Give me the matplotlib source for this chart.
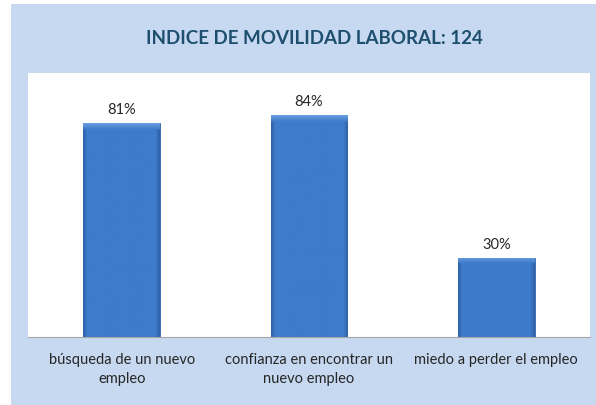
import numpy as np
import matplotlib
matplotlib.use("Agg")
import matplotlib.pyplot as plt
from matplotlib.patches import Rectangle
from matplotlib import font_manager

categories = ["búsqueda de un nuevo\nempleo",
              "confianza en encontrar un\nnuevo empleo",
              "miedo a perder el empleo"]
values = [81, 84, 30]
value_labels = ["81%", "84%", "30%"]
title = "INDICE DE MOVILIDAD LABORAL: 124"

names = {f.name for f in font_manager.fontManager.ttflist}
family = "Liberation Sans Narrow" if "Liberation Sans Narrow" in names else "Lato"
plt.rcParams["font.family"] = [family, "DejaVu Sans"]

W, H = 596, 406
fig = plt.figure(figsize=(W / 100, H / 100), dpi=100)
fig.patch.set_facecolor("white")

# light blue panel behind everything
fig.patches.append(Rectangle((11 / W, 0), 1 - 11 / W, 1 - 5 / H,
                             transform=fig.transFigure, facecolor="#C6D9F0",
                             edgecolor="none", zorder=-10))

ax = fig.add_axes([28 / W, (H - 338) / H, (590 - 28) / W, (338 - 74) / H])
ax.set_facecolor("white")

x = np.arange(len(values))
width = 0.41
bars = ax.bar(x, values, width, color="#3C78C6", edgecolor="#3566A8",
              linewidth=0.6, zorder=2)

# bevel-like shading inside each bar
ny, nx = 200, 80
base = np.array([0x3E, 0x7B, 0xCB]) / 255
light = np.array([0x66, 0x9C, 0xE0]) / 255
dark = np.array([0x2F, 0x62, 0xA8]) / 255
for b in bars:
    x0, y0 = b.get_x(), b.get_y()
    w, h = b.get_width(), b.get_height()
    top_rows = 2.2 / h * ny
    img = np.zeros((ny, nx, 3))
    cols = np.linspace(0, 1, nx)
    for i in range(ny):
        for j in range(nx):
            c = base.copy()
            dx = min(cols[j], 1 - cols[j])
            if dx < 0.05:
                c = dark * (1 - dx / 0.05) + base * (dx / 0.05)
            if i < top_rows:
                t = i / top_rows
                c = light * (1 - t) + base * t
            img[i, j] = c
    im = ax.imshow(img, extent=(x0, x0 + w, y0, y0 + h), aspect="auto",
                   origin="upper", zorder=2.5, interpolation="bilinear")
    im.set_clip_path(b)

for xi, v, lab in zip(x, values, value_labels):
    ax.annotate(lab, (xi, v), xytext=(0, 5), textcoords="offset points",
                ha="center", va="bottom", fontsize=10.5, color="#262626")

ax.set_xlim(-0.5, len(values) - 0.5)
ax.set_ylim(0, 100)
ax.set_xticks(x)
ax.set_xticklabels(categories, fontsize=10.5, color="#262626",
                   linespacing=1.45, multialignment="center")
ax.tick_params(axis="x", length=0, pad=11)
ax.set_yticks([])
for s in ["top", "left", "right"]:
    ax.spines[s].set_visible(False)
ax.spines["bottom"].set_color("#A6A6A6")

fig.text(0.5 + 16 / W, 1 - 38 / H, title, ha="center", va="center",
         fontsize=13.5, fontweight="bold", color="#1F4F6F")

fig.savefig("out.png", dpi=100)
